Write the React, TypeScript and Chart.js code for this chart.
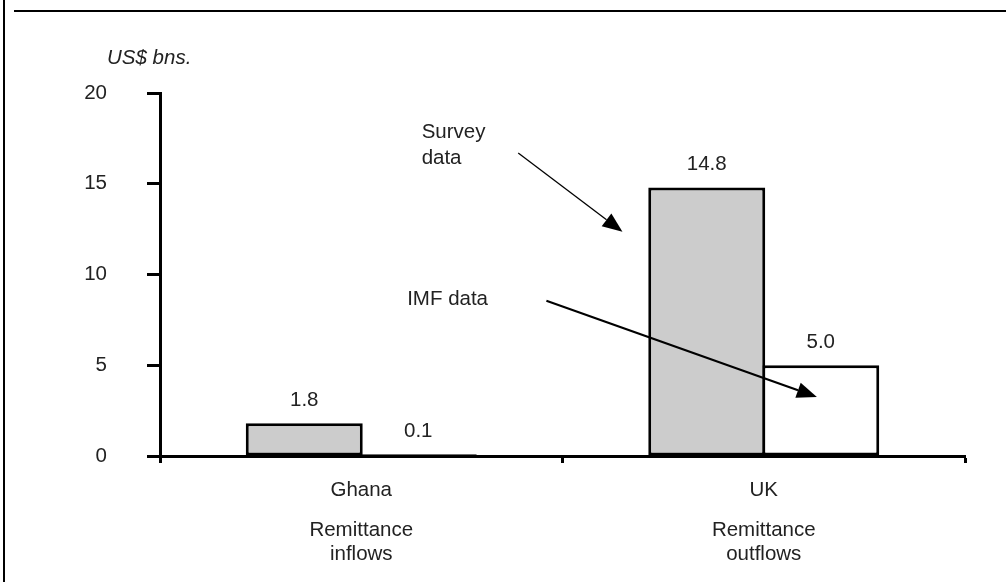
import React, { useEffect, useRef } from "react";
import { Chart, registerables } from "chart.js";

Chart.register(...registerables);

const categories = ["Ghana", "UK"];
const flowLabels = [["Remittance", "inflows"], ["Remittance", "outflows"]];
const surveyValues = [1.8, 14.8];
const imfValues = [0.1, 5.0];
const yTicks = [0, 5, 10, 15, 20];
const unitLabel = "US$ bns.";

// annotation anchors in data space (category index, value)
const surveyNote = { lines: ["Survey", "data"], x: 0.15, y: 17.85, from: [0.39, 16.7], to: [0.649, 12.35] };
const imfNote = { lines: ["IMF data"], x: 0.114, y: 8.65, from: [0.46, 8.55], to: [1.132, 3.25] };

const FAMILY = "'Liberation Sans', Arial, sans-serif";
const SIZE = 20.5;
const FONT = `${SIZE}px ${FAMILY}`;
const TEXT = "#222222";

function arrow(ctx: CanvasRenderingContext2D, x1: number, y1: number, x2: number, y2: number, width: number) {
  const ang = Math.atan2(y2 - y1, x2 - x1);
  const len = 20;
  const half = 8;
  const bx = x2 - len * Math.cos(ang);
  const by = y2 - len * Math.sin(ang);
  ctx.save();
  ctx.strokeStyle = "#000";
  ctx.fillStyle = "#000";
  ctx.lineWidth = width;
  ctx.beginPath();
  ctx.moveTo(x1, y1);
  ctx.lineTo(bx, by);
  ctx.stroke();
  ctx.beginPath();
  ctx.moveTo(x2, y2);
  ctx.lineTo(bx + half * Math.sin(ang), by - half * Math.cos(ang));
  ctx.lineTo(bx - half * Math.sin(ang), by + half * Math.cos(ang));
  ctx.closePath();
  ctx.fill();
  ctx.restore();
}

const decorPlugin = {
  id: "decor",
  beforeDraw(chart: any) {
    const ctx = chart.ctx;
    ctx.save();
    ctx.strokeStyle = "#000";
    ctx.lineWidth = 2;
    ctx.beginPath();
    ctx.moveTo(4, 0);
    ctx.lineTo(4, chart.height);
    ctx.moveTo(14, 11);
    ctx.lineTo(chart.width, 11);
    ctx.stroke();
    ctx.restore();
  },
  afterDraw(chart: any) {
    const ctx = chart.ctx;
    const xs = chart.scales.x;
    const ys = chart.scales.y;
    ctx.save();
    ctx.font = FONT;
    ctx.fillStyle = TEXT;
    ctx.textBaseline = "middle";
    // value labels
    chart.data.datasets.forEach((ds: any, i: number) => {
      const meta = chart.getDatasetMeta(i);
      meta.data.forEach((bar: any, j: number) => {
        ctx.textAlign = "center";
        ctx.fillText(Number(ds.data[j]).toFixed(1), bar.x, bar.y - 23);
      });
    });
    // unit label
    ctx.font = "italic " + FONT;
    ctx.textAlign = "left";
    ctx.fillText(unitLabel, chart.chartArea.left - 53, ys.getPixelForValue(20) - 35);
    // annotations
    ctx.font = FONT;
    [surveyNote, imfNote].forEach((n) => {
      const tx = xs.getPixelForValue(n.x);
      n.lines.forEach((l, k) => {
        ctx.fillText(l, tx, ys.getPixelForValue(n.y) + k * 26);
      });
    });
    ctx.restore();
    arrow(ctx, xs.getPixelForValue(surveyNote.from[0]), ys.getPixelForValue(surveyNote.from[1]),
      xs.getPixelForValue(surveyNote.to[0]), ys.getPixelForValue(surveyNote.to[1]), 1.3);
    arrow(ctx, xs.getPixelForValue(imfNote.from[0]), ys.getPixelForValue(imfNote.from[1]),
      xs.getPixelForValue(imfNote.to[0]), ys.getPixelForValue(imfNote.to[1]), 2.2);
  },
};

export default function App() {
  const ref = useRef<HTMLCanvasElement>(null);
  useEffect(() => {
    if (!ref.current) return;
    const chart = new Chart(ref.current, {
      type: "bar",
      data: {
        labels: categories,
        datasets: [
          { label: "Survey data", data: surveyValues, backgroundColor: "#cccccc", borderColor: "#000", borderWidth: 3, borderSkipped: false, xAxisID: "x" },
          { label: "IMF data", data: imfValues, backgroundColor: "#ffffff", borderColor: "#000", borderWidth: 3, borderSkipped: false, xAxisID: "x" },
        ],
      },
      options: {
        responsive: false,
        animation: false,
        layout: { padding: { left: 0, right: 41, top: 93, bottom: 0 } },
        plugins: { legend: { display: false }, tooltip: { enabled: false } },
        datasets: { bar: { barPercentage: 1.026, categoryPercentage: 0.5665 } },
        scales: {
          x: {
            type: "category",
            position: "bottom",
            offset: true,
            grid: { offset: true, drawOnChartArea: false, drawTicks: true, tickLength: 7, tickColor: "#000", tickWidth: 3 },
            border: { color: "#000", width: 3 },
            ticks: { color: TEXT, font: { family: FAMILY, size: SIZE }, padding: 15 },
            afterFit: (s: any) => { s.height = 52; },
          },
          x2: {
            type: "category",
            position: "bottom",
            labels: flowLabels as any,
            offset: true,
            grid: { display: false, drawTicks: false },
            border: { display: false },
            ticks: { color: TEXT, font: { family: FAMILY, size: SIZE, lineHeight: "24px" }, padding: 10 },
            afterFit: (s: any) => { s.height = 74; },
          },
          y: {
            min: 0,
            max: 20,
            afterBuildTicks: (s: any) => { s.ticks = yTicks.map((v) => ({ value: v })); },
            grid: { drawOnChartArea: false, drawTicks: true, tickLength: 13, tickColor: "#000", tickWidth: 3 },
            border: { color: "#000", width: 3 },
            ticks: { color: TEXT, font: { family: FAMILY, size: SIZE }, padding: 40 },
            afterFit: (s: any) => { s.width = 160; },
          },
        },
      },
      plugins: [decorPlugin],
    } as any);
    return () => chart.destroy();
  }, []);
  return (
    <div style={{ position: "fixed", left: 0, top: 0, width: 1006, height: 582, background: "#fff" }}>
      <canvas ref={ref} width={1006} height={582} style={{ display: "block" }} />
    </div>
  );
}
